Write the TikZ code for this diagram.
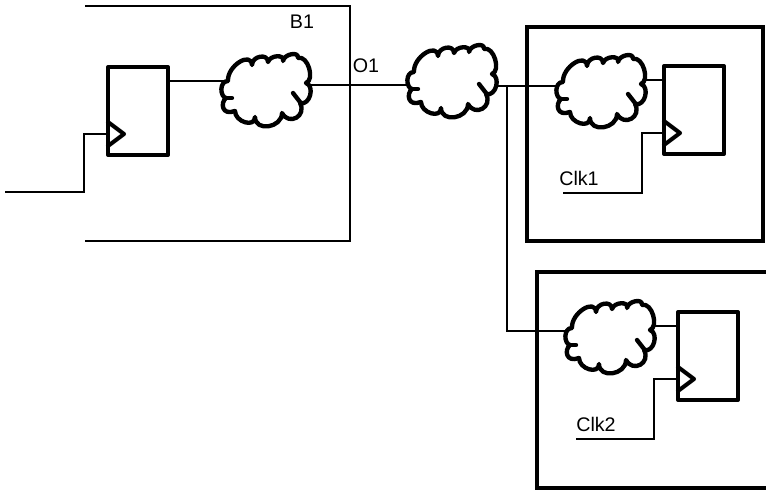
\documentclass[tikz,border=0pt]{standalone}
\usepackage{fontspec}
\setmainfont{Liberation Sans}
\usepackage{tikz}
\usetikzlibrary{positioning,calc}

\newcommand{\flop}[2]{%
    \node[ffbox] (#1) at (#2) {};
    \coordinate (#1-q) at ($(#1.east)+(0,-30)$);
    \coordinate (#1-d) at ($(#1.west)+(0,-30)$);
    \coordinate (#1-c) at ($(#1.west)+(0,23)$);
    \draw[ffline] ($(#1-c)+(0,-12)$) -- ($(#1-c)+(16,0)$) -- ($(#1-c)+(0,12)$);
}

\begin{document}
\begin{tikzpicture}[
    x=0.025cm, y=-0.025cm,
    ffline/.style={line width=2.9pt, line join=round, line cap=round},
    ffbox/.style={draw, ffline, minimum width=1.5cm, minimum height=2.2cm, inner sep=0pt, outer sep=0pt},
    cloudbox/.style={minimum width=2cm, minimum height=1.75cm, inner sep=0pt, outer sep=0pt},
    cloudline/.style={line width=3.1pt, line join=round, line cap=round, fill=white},
    wire/.style={line width=1.2pt},
    block/.style={line width=2.9pt},
    lbl/.style={font=\fontsize{14}{16}\selectfont, inner sep=0pt}
]
    \useasboundingbox (0,0) rectangle (766,490);

    % blocks
    \coordinate (b1tl) at (85,6);
    \coordinate (b1br) at (350,241);
    \draw[wire, line width=1.4pt] (b1tl) -| (b1br) -- (b1br -| b1tl);
    \draw[block] (527,27) rectangle (763,241);
    \coordinate (b3tr) at (766,272);
    \coordinate (b3bl) at (537,488);
    \draw[block] (b3tr) -| (b3bl) -- (b3bl -| b3tr);

    \node[lbl] (b1) at (302,22) {B1};
    \node[lbl] (o1) at (366,66) {O1};
    \node[lbl] (clk1) at (579,178) {Clk1};
    \node[lbl] (clk2) at (596,424) {Clk2};

    % flops
    \flop{ff1}{138,111}
    \flop{ff2}{694,110}
    \flop{ff3}{708,356}

    % clouds
    \node[cloudbox] (cl1) at (266,90) {};
    \node[cloudbox] (cl2) at (452,81) {};
    \node[cloudbox] (cl3) at (601,91) {};
    \node[cloudbox] (cl4) at (610,337) {};

    % wires
    \coordinate (in) at (5,192);
    \coordinate (clk1s) at (563,193);
    \coordinate (clk2s) at (576,439);
    \coordinate (tap) at (507,86);
    \draw[wire] (in) -| (84,134) -- (ff1-c);
    \draw[wire] (ff1-q) -- (ff1-q -| cl1.east);
    \draw[wire] (cl1) ++(0,-5) -- (cl2.center |- 0,85);
    \draw[wire] (cl2) ++(0,5) -- (cl3.center |- 0,86);
    \draw[wire] (cl3) ++(0,-11) -- (ff2-d);
    \draw[wire] (cl4) ++(0,-11) -- (ff3-d);
    \draw[wire] (tap) |- (cl4.center |- 0,331);
    \draw[wire] (clk1s) -| (642,133) -- (ff2-c);
    \draw[wire] (clk2s) -| (654,379) -- (ff3-c);

    \foreach \n in {cl1,cl2,cl3,cl4} {
        \begin{scope}[shift={(\n.center)}]
            \draw[cloudline] (-38,-9) .. controls (-39,-24) and (-15,-39) .. (-14,-25)
                .. controls (-14,-34) and (2,-37) .. (2,-28)
                .. controls (4,-35) and (19,-36) .. (17,-29)
                .. controls (18,-36) and (33,-39) .. (32,-32)
                .. controls (42,-35) and (49,-10) .. (40,-7)
                .. controls (49,-4) and (44,16) .. (34,13)
                .. controls (41,26) and (23,36) .. (16,23)
                .. controls (16,38) and (-11,42) .. (-11,27)
                .. controls (-11,38) and (-31,32) .. (-31,21)
                .. controls (-44,26) and (-46,13) .. (-40,8)
                .. controls (-46,7) and (-47,-9) .. cycle;
            \draw[cloudline] (-40,8) -- (-34,8);
            \draw[cloudline] (27,3) -- (34,12);
        \end{scope}
    }
\end{tikzpicture}
\end{document}
